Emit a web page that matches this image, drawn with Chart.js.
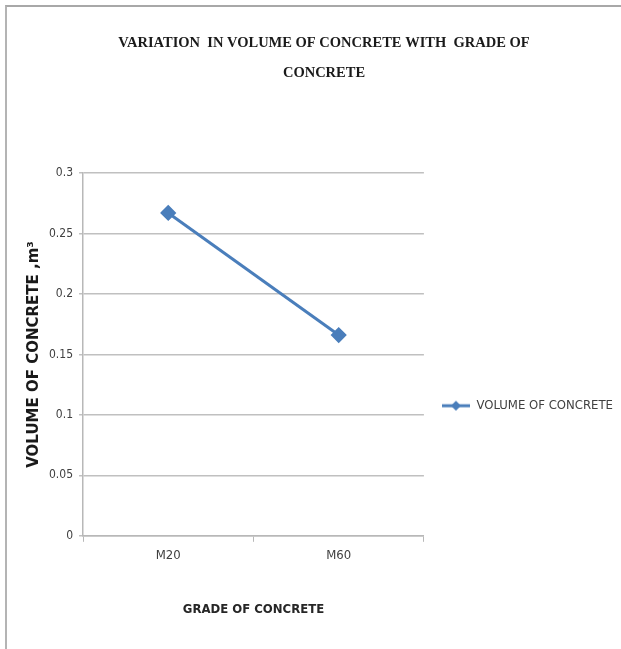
<!DOCTYPE html>
<html>
<head>
<meta charset="utf-8">
<script src="https://cdn.jsdelivr.net/npm/chart.js@4"></script>
<style>
  html, body { margin: 0; padding: 0; background: #fff; }
  #wrap { position: relative; width: 621px; height: 649px; }
  #frame { position: absolute; left: 5px; top: 5px; right: 0; bottom: 0;
           border-left: 2px solid #b4b4b4; border-top: 2px solid #a8a8a8; pointer-events: none; }
</style>
</head>
<body>
<div id="wrap">
  <canvas id="c" width="621" height="649"></canvas>
  <div id="frame"></div>
</div>
<script>
const categories = ['M20', 'M60'];
const volumeOfConcrete = [0.267, 0.166];
const seriesName = 'VOLUME OF CONCRETE';
const yTicks = [0, 0.05, 0.1, 0.15, 0.2, 0.25, 0.3];
const chartTitle = ['VARIATION  IN VOLUME OF CONCRETE WITH  GRADE OF', 'CONCRETE'];
const xTitle = 'GRADE OF CONCRETE';
const yTitle = 'VOLUME OF CONCRETE ,m\u00B3';

const blue = '#4a7ebb';
const narrow = "'DejaVu Sans Condensed', 'Liberation Sans', sans-serif";

// legend symbol: line with diamond marker
function legendSymbol() {
  const cv = document.createElement('canvas');
  cv.width = 28; cv.height = 12;
  const g = cv.getContext('2d');
  g.strokeStyle = blue; g.lineWidth = 3;
  g.beginPath(); g.moveTo(0, 6); g.lineTo(28, 6); g.stroke();
  g.fillStyle = blue;
  g.beginPath(); g.moveTo(14, 1); g.lineTo(19, 6); g.lineTo(14, 11); g.lineTo(9, 6); g.closePath(); g.fill();
  return cv;
}

new Chart(document.getElementById('c'), {
  type: 'line',
  data: {
    labels: categories,
    datasets: [{
      label: seriesName,
      data: volumeOfConcrete,
      borderColor: blue,
      backgroundColor: blue,
      borderWidth: 3,
      pointStyle: 'rectRot',
      pointRadius: 6,
      pointHoverRadius: 6,
      tension: 0
    }]
  },
  options: {
    responsive: false,
    animation: false,
    devicePixelRatio: 1,
    layout: { padding: { left: 25, right: -2, top: 0, bottom: 32 } },
    plugins: {
      tooltip: { enabled: false },
      title: {
        display: true,
        text: chartTitle,
        color: '#1a1a1a',
        font: { family: "'Liberation Serif', serif", size: 14.5, weight: 'bold', lineHeight: 2.07 },
        padding: { top: 28, bottom: 85 }
      },
      legend: {
        position: 'right',
        maxWidth: 260,
        title: { display: true, text: ' ', padding: { top: 180, bottom: 0 } },
        labels: {
          color: '#404040',
          font: { family: narrow, size: 13 },
          usePointStyle: true,
          pointStyleWidth: 28,
          boxWidth: 28,
          padding: 18,
          generateLabels(chart) {
            const ds = chart.data.datasets;
            return ds.map((d, i) => ({
              text: d.label,
              pointStyle: legendSymbol(),
              fillStyle: blue, strokeStyle: blue,
              fontColor: '#404040',
              datasetIndex: i, hidden: false, lineWidth: 0
            }));
          }
        }
      }
    },
    scales: {
      x: {
        offset: true,
        grid: { drawOnChartArea: false, drawTicks: true, offset: true, tickLength: 6, color: '#b8b8b8' },
        border: { color: '#b8b8b8', width: 1.5 },
        ticks: { color: '#404040', padding: 6, font: { family: narrow, size: 13 } },
        title: { display: true, text: xTitle, color: '#262626', padding: { top: 32, bottom: 0 },
          font: { family: narrow, size: 13, weight: 'bold' } }
      },
      y: {
        min: 0, max: 0.3,
        afterBuildTicks(scale) { scale.ticks = yTicks.map(v => ({ value: v })); },
        grid: { color: '#c0c0c0', lineWidth: 1.5, tickLength: 4 },
        border: { color: '#b8b8b8', width: 1.5 },
        ticks: { color: '#404040', padding: 6, font: { family: narrow, size: 12 },
          callback: v => String(v) },
        title: { display: true, text: yTitle, color: '#1a1a1a', padding: { top: 0, bottom: 0 },
          font: { family: "'DejaVu Sans', sans-serif", size: 15, weight: 'bold' } }
      }
    }
  }
});
</script>
</body>
</html>
